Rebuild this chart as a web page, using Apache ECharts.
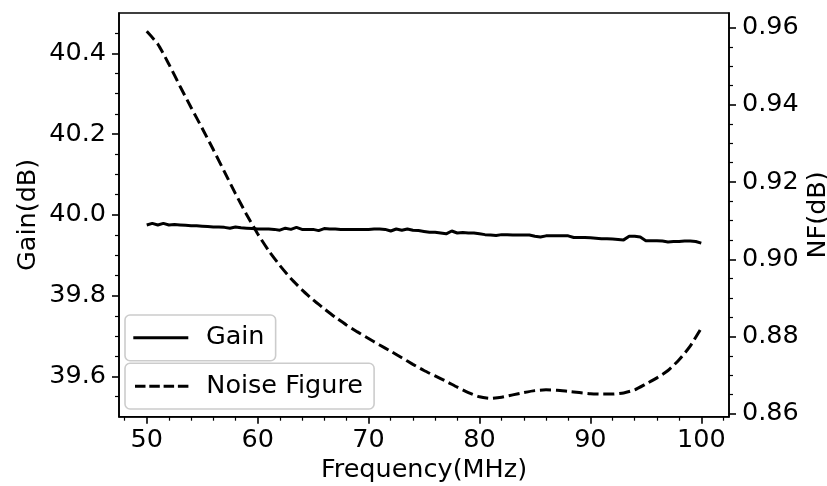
<!DOCTYPE html>
<html>
<head>
<meta charset="utf-8">
<script src="https://cdn.jsdelivr.net/npm/echarts@6/dist/echarts.min.js"></script>
<style>
html,body{margin:0;padding:0;background:#fff;}
#chart{width:827px;height:486px;}
</style>
</head>
<body>
<div id="chart"></div>
<script>
const gainFreq = [50,50.5,51,51.5,52,52.5,53,53.5,54,54.5,55,55.5,56,56.5,57,57.5,58,58.5,59,59.5,
  60,60.5,61,61.5,62,62.5,63,63.5,64,64.5,65,65.5,66,66.5,67,67.5,68,68.5,69,69.5,
  70,70.5,71,71.5,72,72.5,73,73.5,74,74.5,75,75.5,76,76.5,77,77.5,78,78.5,79,79.5,
  80,80.5,81,81.5,82,82.5,83,83.5,84,84.5,85,85.5,86,86.5,87,87.5,88,88.5,89,89.5,
  90,90.5,91,91.5,92,92.5,93,93.5,94,94.5,95,95.5,96,96.5,97,97.5,98,98.5,99,99.5,100];
const gainDb = [39.975,39.979,39.975,39.979,39.975,39.976,39.975,39.974,39.973,39.973,
  39.972,39.971,39.970,39.970,39.969,39.967,39.970,39.968,39.967,39.966,
  39.965,39.965,39.965,39.964,39.962,39.967,39.964,39.969,39.964,39.964,
  39.964,39.961,39.966,39.965,39.965,39.964,39.964,39.964,39.964,39.964,
  39.964,39.965,39.965,39.964,39.960,39.965,39.962,39.965,39.962,39.961,
  39.959,39.957,39.957,39.955,39.953,39.960,39.955,39.956,39.955,39.955,
  39.953,39.951,39.950,39.949,39.951,39.951,39.950,39.950,39.950,39.950,
  39.947,39.945,39.948,39.948,39.948,39.948,39.948,39.944,39.944,39.944,
  39.943,39.942,39.941,39.941,39.940,39.939,39.938,39.947,39.947,39.945,
  39.936,39.936,39.936,39.935,39.933,39.934,39.934,39.935,39.935,39.934,39.930];
const nfFreq = [50,51,52,53,54,55,56,57,58,59,60,61,62,63,64,65,66,67,68,69,
  70,71,72,73,74,75,76,77,78,79,80,81,82,83,84,85,86,87,88,89,
  90,91,92,93,94,95,96,97,98,99,100];
const nfDb = [0.9590,0.9557,0.9505,0.9448,0.9393,0.9339,0.9284,0.9227,0.9170,0.9116,
  0.9066,0.9022,0.8984,0.8950,0.8921,0.8895,0.8872,0.8850,0.8830,0.8812,
  0.8795,0.8778,0.8762,0.8745,0.8728,0.8712,0.8698,0.8684,0.8669,0.8655,
  0.8644,0.8640,0.8643,0.8649,0.8655,0.8660,0.8662,0.8661,0.8658,0.8655,
  0.8652,0.8651,0.8651,0.8654,0.8662,0.8677,0.8693,0.8712,0.8740,0.8775,0.8822];

const xMajorTicks = [50,60,70,80,90,100];
const xMinorTicks = [48,52,54,56,58,62,64,66,68,72,74,76,78,82,84,86,88,92,94,96,98,102];
const gainMajorTicks = [39.6,39.8,40.0,40.2,40.4];
const gainMinorTicks = [39.55,39.65,39.7,39.75,39.85,39.9,39.95,40.05,40.1,40.15,40.25,40.3,40.35,40.45];
const nfMajorTicks = [0.86,0.88,0.90,0.92,0.94,0.96];
const nfMinorTicks = [0.865,0.87,0.875,0.885,0.89,0.895,0.905,0.91,0.915,0.925,0.93,0.935,0.945,0.95,0.955];

const FONT = 'DejaVu Sans';
const FS = 25.5;

const nfMin = Math.min.apply(null, nfDb), nfMax = Math.max.apply(null, nfDb);
const nfLo = nfMin - 0.05 * (nfMax - nfMin), nfHi = nfMax + 0.05 * (nfMax - nfMin);
const xLo = 47.5, xHi = 102.5;

const chart = echarts.init(document.getElementById('chart'), null, {renderer: 'canvas'});

const txt = {color: '#000', fontFamily: FONT, fontSize: FS};
function minorAxis(pos, lo, hi, ticks) {
  return {
    type: 'value', position: pos, min: lo, max: hi,
    axisLine: {show: false, onZero: false},
    axisLabel: {show: false},
    splitLine: {show: false},
    axisTick: {show: true, customValues: ticks, length: 4, lineStyle: {color: '#000', width: 1.2}}
  };
}

chart.setOption({
  animation: false,
  backgroundColor: '#fff',
  grid: {left: 119, right: 98, top: 13, bottom: 69.3, containLabel: false, outerBoundsMode: 'none',
    show: true, borderColor: '#000', borderWidth: 1.6, backgroundColor: 'transparent'},
  xAxis: [
    {
      type: 'value', position: 'bottom', min: xLo, max: xHi,
      name: 'Frequency(MHz)', nameLocation: 'middle', nameGap: 41, nameMoveOverlap: false,
      nameTextStyle: txt,
      axisLine: {show: true, onZero: false, lineStyle: {color: '#000', width: 1.6}},
      axisTick: {show: true, customValues: xMajorTicks, length: 7, lineStyle: {color: '#000', width: 1.6}},
      axisLabel: Object.assign({customValues: xMajorTicks, margin: 11, formatter: v => String(v)}, txt),
      splitLine: {show: false}
    },
    minorAxis('bottom', xLo, xHi, xMinorTicks)
  ],
  yAxis: [
    {
      type: 'value', position: 'left', min: 39.5, max: 40.5,
      name: 'Gain(dB)', nameLocation: 'middle', nameGap: 78, nameRotate: 90, nameMoveOverlap: false,
      nameTextStyle: txt,
      axisLine: {show: true, onZero: false, lineStyle: {color: '#000', width: 1.6}},
      axisTick: {show: true, customValues: gainMajorTicks, length: 7, lineStyle: {color: '#000', width: 1.6}},
      axisLabel: Object.assign({customValues: gainMajorTicks, margin: 13, formatter: v => v.toFixed(1)}, txt),
      splitLine: {show: false}
    },
    {
      type: 'value', position: 'right', min: nfLo, max: nfHi,
      name: 'NF(dB)', nameLocation: 'middle', nameGap: 76, nameRotate: 90, nameMoveOverlap: false,
      nameTextStyle: txt,
      axisLine: {show: true, onZero: false, lineStyle: {color: '#000', width: 1.6}},
      axisTick: {show: true, customValues: nfMajorTicks, length: 7, lineStyle: {color: '#000', width: 1.6}},
      axisLabel: Object.assign({customValues: nfMajorTicks, margin: 13, formatter: v => v.toFixed(2)}, txt),
      splitLine: {show: false}
    },
    minorAxis('left', 39.5, 40.5, gainMinorTicks),
    minorAxis('right', nfLo, nfHi, nfMinorTicks)
  ],
  legend: [
    {
      data: [{name: 'Gain', icon: 'path://M0,0H55V3H0Z'}],
      left: 125, top: 315, orient: 'vertical',
      itemWidth: 55, itemHeight: 3, selectedMode: false,
      padding: [7.85, 11.1, 7.85, 8.3],
      borderColor: '#cccccc', borderWidth: 1.6, borderRadius: 5,
      backgroundColor: 'rgba(255,255,255,0.8)',
      itemStyle: {color: '#000', borderWidth: 0},
      textStyle: Object.assign({lineHeight: 30, padding: [0, 0, 0, 12.6]}, txt)
    },
    {
      data: [{name: 'Noise Figure', icon: 'path://M0,0H10.5V3H0Z M14.3,0H24.8V3H14.3Z M28.6,0H39.1V3H28.6Z M42.9,0H53.4V3H42.9Z'}],
      left: 125, top: 363.3, orient: 'vertical',
      itemWidth: 53.4, itemHeight: 3, selectedMode: false,
      padding: [7.85, 11.1, 7.85, 10],
      borderColor: '#cccccc', borderWidth: 1.6, borderRadius: 5,
      backgroundColor: 'rgba(255,255,255,0.8)',
      itemStyle: {color: '#000', borderWidth: 0},
      textStyle: Object.assign({lineHeight: 30, padding: [0, 0, 0, 12.9]}, txt)
    }
  ],
  series: [
    {
      name: 'Gain', type: 'line', xAxisIndex: 0, yAxisIndex: 0,
      data: gainFreq.map((f, i) => [f, gainDb[i]]),
      symbol: 'none', showSymbol: false, color: '#000',
      lineStyle: {color: '#000', width: 3}
    },
    {
      name: 'Noise Figure', type: 'line', xAxisIndex: 0, yAxisIndex: 1,
      data: nfFreq.map((f, i) => [f, nfDb[i]]),
      symbol: 'none', showSymbol: false, color: '#000', smooth: 0.2,
      lineStyle: {color: '#000', width: 3, type: [11.1, 4.8]}
    }
  ]
});
</script>
</body>
</html>
